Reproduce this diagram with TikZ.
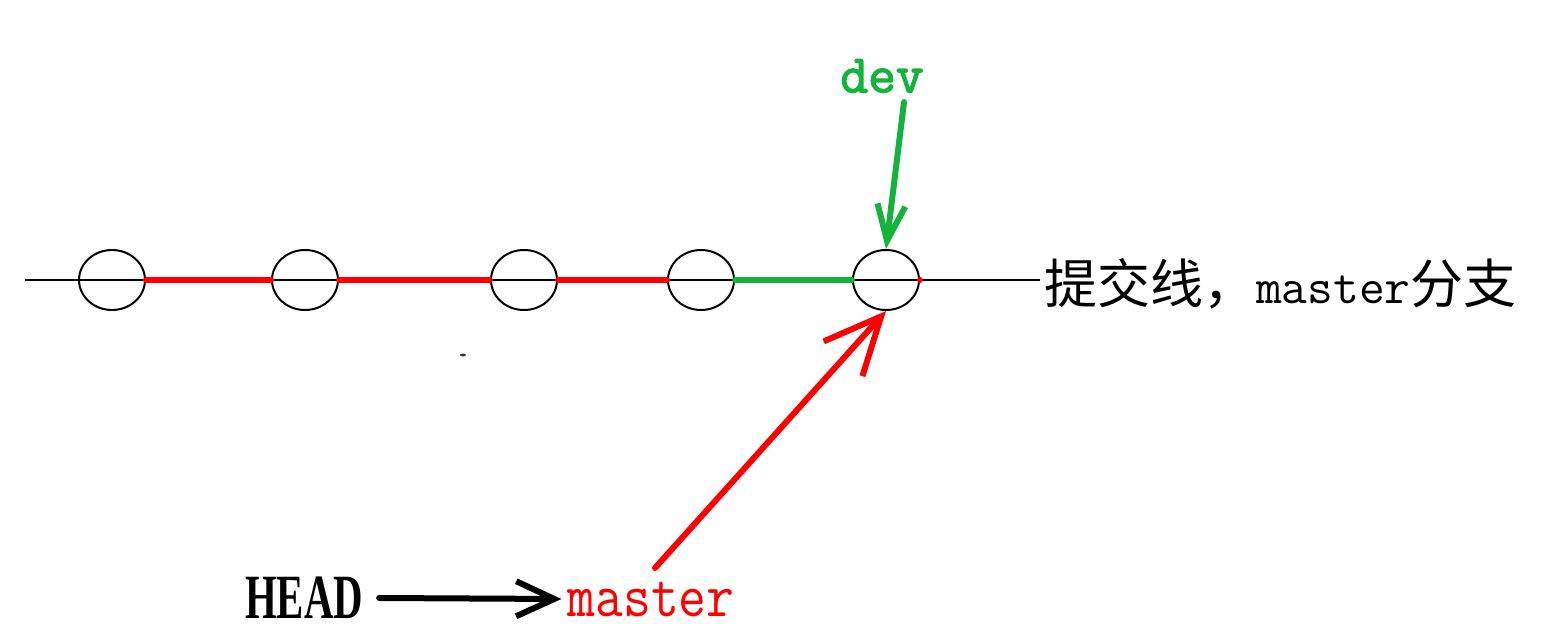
\documentclass[tikz,border=0pt]{standalone}
\usepackage{fontspec}
\setmainfont{Liberation Serif}
\newfontfamily\cjk{Noto Sans CJK SC}
\newfontfamily\smono{Latin Modern Mono}
\newfontfamily\bmono{Latin Modern Mono}[FakeBold=2.5]
\usetikzlibrary{shapes.geometric,arrows.meta}
\definecolor{gitred}{RGB}{255,0,0}
\definecolor{gitgreen}{RGB}{20,180,60}
\tikzset{
  commit/.style={draw=black, line width=2pt, ellipse, minimum width=66pt, minimum height=60pt, inner sep=0pt},
  baseline/.style={draw=black, line width=2pt},
  redseg/.style={draw=gitred, line width=6pt, line cap=round},
  greenseg/.style={draw=gitgreen, line width=6pt, line cap=round},
  ptr/.style={line width=6pt, line cap=round},
}
\begin{document}
\begin{tikzpicture}[x=1pt,y=-1pt]
\useasboundingbox (0,0) rectangle (1542,636);
% commit line
\coordinate (L) at (25,280);
\coordinate (R) at (1040,280);
\draw[baseline] (L) -- (R);
\node[commit] (c1) at (112,280) {};
\node[commit] (c2) at (305,280) {};
\node[commit] (c3) at (524,280) {};
\node[commit] (c4) at (701,280) {};
\node[commit] (c5) at (886,280) {};
\draw[redseg] (c1.east) -- (c2.west);
\draw[redseg] (c2.east) -- (c3.west);
\draw[redseg] (c3.east) -- (c4.west);
\draw[greenseg] (c4.east) -- (c5.west);
\fill[gitred] (c5.east) circle (3pt);
% label
\node[anchor=west, inner sep=0pt] (label) at (1044,284)
  {\fontsize{53}{58}\selectfont{\cjk 提交线，}{\smono\fontsize{50}{54}\selectfont master}{\cjk 分支}};
% dev
\node[text=gitgreen, inner sep=0pt] (dev) at (882,76)
  {\bmono\fontsize{54}{56}\selectfont dev};
\coordinate (devtail) at (904,102);
\draw[ptr, gitgreen, -{Straight Barb[length=36pt, width=28pt, line width=6pt]}] (devtail) -- (c5.north);
% master pointer
\coordinate (mtail) at (655,568);
\draw[ptr, gitred, -{Straight Barb[length=57pt, width=52pt, line width=6pt]}] (mtail) -- (c5.south);
% HEAD and master
\node[inner sep=0pt] (head) at (304,598)
  {\scalebox{0.68}[1.05]{\fontsize{60}{60}\selectfont\bfseries HEAD}};
\node[text=gitred, inner sep=0pt] (master) at (651,599)
  {\scalebox{1}[1.15]{\smono\fontsize{54}{56}\selectfont master}};
\draw[ptr, black, -{Straight Barb[length=38pt, width=35pt, line width=6pt]}] ([xshift=16pt]head.east) -- ([xshift=-6pt]master.west);
% stray speck
\fill[black!80] (463,355) ellipse (3pt and 1.5pt);
\end{tikzpicture}
\end{document}
